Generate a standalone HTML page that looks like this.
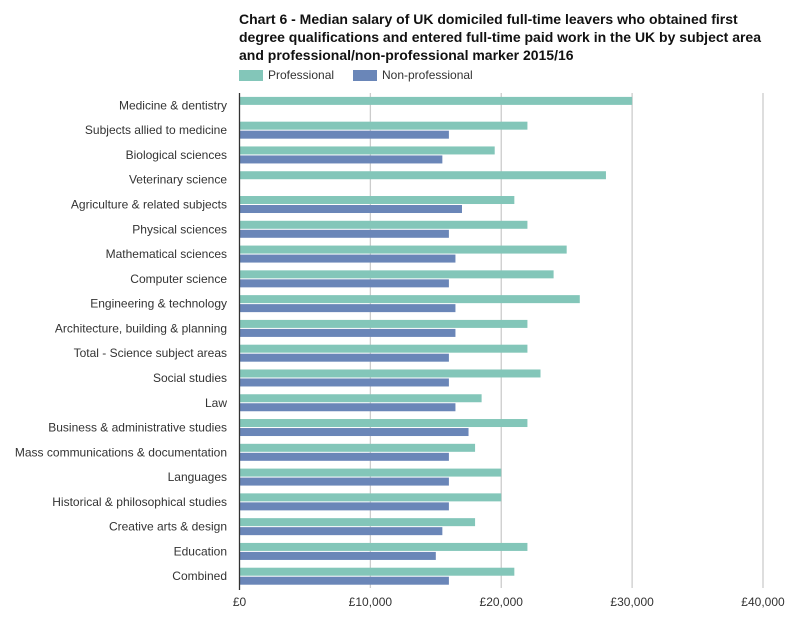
<!DOCTYPE html>
<html><head><meta charset="utf-8"><style>
body{margin:0;background:#fff;font-family:"Liberation Sans",Arial,sans-serif;}
#wrap{position:relative;width:795px;height:620px;overflow:hidden;}
#title{position:absolute;left:239px;top:10px;font-size:14px;font-weight:bold;line-height:18px;color:#111;width:540px;}
.leg{position:absolute;top:68px;font-size:12px;color:#333;}
.sw{position:absolute;width:24px;height:11px;top:70px;}
</style></head><body>
<div id="wrap">
<div id="title">Chart 6 - Median salary of UK domiciled full-time leavers who obtained first degree qualifications and entered full-time paid work in the UK by subject area and professional/non-professional marker 2015/16</div>
<div class="sw" style="left:239px;background:#83c6b9"></div>
<div class="leg" style="left:268px">Professional</div>
<div class="sw" style="left:353px;background:#6a86b8"></div>
<div class="leg" style="left:382px">Non-professional</div>
<svg id="svg" width="795" height="620" style="position:absolute;left:0;top:0"></svg>
</div>
<script>
const categories=["Medicine & dentistry","Subjects allied to medicine","Biological sciences","Veterinary science","Agriculture & related subjects","Physical sciences","Mathematical sciences","Computer science","Engineering & technology","Architecture, building & planning","Total - Science subject areas","Social studies","Law","Business & administrative studies","Mass communications & documentation","Languages","Historical & philosophical studies","Creative arts & design","Education","Combined"];
const professional=[30000,22000,19500,28000,21000,22000,25000,24000,26000,22000,22000,23000,18500,22000,18000,20000,20000,18000,22000,21000];
const nonProfessional=[null,16000,15500,null,17000,16000,16500,16000,16500,16500,16000,16000,16500,17500,16000,16000,16000,15500,15000,16000];
const ticks=[0,10000,20000,30000,40000];
const tickLabels=["£0","£10,000","£20,000","£30,000","£40,000"];
const svg=document.getElementById('svg');const NS='http://www.w3.org/2000/svg';
const x0=239.5,x1=763,xmax=40000,yTop=93,band=24.78;
const xs=v=>x0+(v/xmax)*(x1-x0);
const yc=i=>yTop+band*(i+0.5);
function mk(t,a){const e=document.createElementNS(NS,t);for(const k in a)e.setAttribute(k,a[k]);svg.appendChild(e);return e;}
ticks.forEach((t,i)=>{
 if(t>0){const g=mk('line',{x1:xs(t),x2:xs(t),y1:yTop,y2:588,stroke:'#ccc','stroke-width':1.3});
 
 }
 const l=mk('text',{x:xs(t),y:606,'text-anchor':'middle','font-size':12,fill:'#333'});l.textContent=tickLabels[i];
 
 
});
categories.forEach((c,i)=>{
 const cy=yc(i);
 const l=mk('text',{x:227,y:cy+4,'text-anchor':'end','font-size':12,fill:'#333'});l.textContent=c;
 
 
 if(professional[i]!=null){const b=mk('rect',{x:x0,y:cy-8.5,width:xs(professional[i])-x0,height:8,fill:'#83c6b9'});
 
 }
 if(nonProfessional[i]!=null){const b=mk('rect',{x:x0,y:cy+0.5,width:xs(nonProfessional[i])-x0,height:8,fill:'#6a86b8'});
 
 }
});
const ax=mk('line',{x1:x0,x2:x0,y1:yTop,y2:590,stroke:'#333','stroke-width':1.3});


</script>
</body></html>
